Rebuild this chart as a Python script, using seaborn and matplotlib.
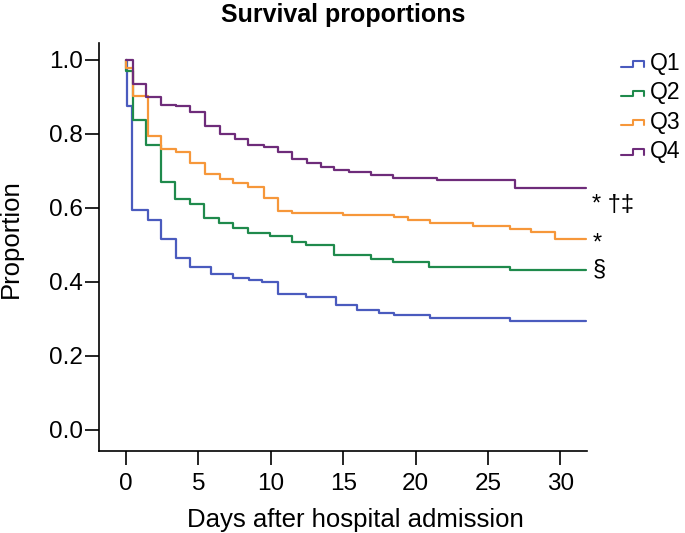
import numpy as np
import pandas as pd
import matplotlib
matplotlib.use('Agg')
import matplotlib.pyplot as plt
import seaborn as sns
from matplotlib.legend_handler import HandlerBase
from matplotlib.lines import Line2D

# step times (days) and survival proportions
q1_days = [0, 0.05, 0.4, 1.5, 2.45, 3.45, 4.45, 5.9, 7.4, 8.5, 9.4, 10.5, 12.45, 14.5, 15.95, 17.45, 18.5, 21.0, 26.5, 31.8]
q1_prop = [1.0, 0.876, 0.595, 0.566, 0.515, 0.464, 0.441, 0.421, 0.410, 0.404, 0.398, 0.368, 0.359, 0.338, 0.324, 0.315, 0.310, 0.302, 0.295, 0.295]

q2_days = [0, 0.02, 0.45, 1.4, 2.4, 3.4, 4.45, 5.4, 6.4, 7.4, 8.45, 9.95, 11.5, 12.45, 14.4, 16.9, 18.45, 20.95, 26.5, 31.8]
q2_prop = [1.0, 0.971, 0.838, 0.770, 0.669, 0.624, 0.611, 0.572, 0.558, 0.546, 0.533, 0.524, 0.507, 0.500, 0.473, 0.462, 0.453, 0.439, 0.432, 0.432]

q3_days = [0, 0.02, 0.5, 1.5, 2.4, 3.45, 4.4, 5.45, 6.5, 7.4, 8.45, 9.5, 10.5, 11.5, 15.0, 18.5, 19.5, 21.0, 24.0, 26.5, 28.0, 29.6, 31.8]
q3_prop = [1.0, 0.977, 0.903, 0.793, 0.759, 0.750, 0.721, 0.692, 0.677, 0.667, 0.655, 0.626, 0.592, 0.587, 0.581, 0.574, 0.566, 0.558, 0.550, 0.543, 0.535, 0.515, 0.515]

q4_days = [0, 0.45, 1.4, 2.4, 3.45, 4.4, 5.45, 6.5, 7.5, 8.45, 9.5, 10.5, 11.5, 12.5, 13.45, 14.4, 15.4, 16.95, 18.45, 21.45, 26.9, 31.8]
q4_prop = [1.0, 0.934, 0.901, 0.878, 0.874, 0.860, 0.820, 0.799, 0.786, 0.770, 0.764, 0.750, 0.732, 0.721, 0.710, 0.703, 0.696, 0.688, 0.680, 0.674, 0.653, 0.653]

groups = ['Q1', 'Q2', 'Q3', 'Q4']
colors = ['#4a5bbe', '#1f8a4c', '#f6973a', '#6e2c7a']
marks = ['', '§', '*', '* †‡']

df = pd.concat([
    pd.DataFrame({'day': d, 'prop': p, 'group': g})
    for g, d, p in [('Q1', q1_days, q1_prop), ('Q2', q2_days, q2_prop),
                    ('Q3', q3_days, q3_prop), ('Q4', q4_days, q4_prop)]
], ignore_index=True)

sns.set_style('ticks')
plt.rcParams['font.family'] = ['Liberation Sans', 'DejaVu Sans']
plt.rcParams['text.color'] = 'black'
plt.rcParams['xtick.color'] = 'black'
plt.rcParams['ytick.color'] = 'black'
plt.rcParams['axes.labelcolor'] = 'black'


class StepHandler(HandlerBase):
    # little step glyph like the original legend
    def create_artists(self, legend, orig, xd, yd, w, h, fontsize, trans):
        y0 = yd + 0.2 * h
        y1 = yd + 0.55 * h
        xs = [xd, xd + 0.45 * w, xd + 0.45 * w, xd + 0.9 * w, xd + 0.9 * w]
        ys = [y0, y0, y1, y1, y0]
        ln = Line2D(xs, ys, color=orig.get_color(), lw=1.5, transform=trans)
        return [ln]


fig = plt.figure(figsize=(6.85, 5.33), dpi=100)
ax = fig.add_axes([0.1445, 0.1538, 0.712, 0.765])

sns.lineplot(data=df, x='day', y='prop', hue='group', palette=dict(zip(groups, colors)),
             drawstyle='steps-post', estimator=None, sort=False, legend=False,
             linewidth=1.6, ax=ax)

ax.set_xlim(-1.865, 31.82)
ax.set_ylim(-0.058, 1.045)
ax.set_xticks([0, 5, 10, 15, 20, 25, 30])
ax.set_yticks([0, 0.2, 0.4, 0.6, 0.8, 1.0])
ax.set_yticklabels(['0.0', '0.2', '0.4', '0.6', '0.8', '1.0'])
ax.tick_params(axis='both', direction='out', length=10, width=1.2, labelsize=17.5)
ax.tick_params(axis='x', pad=6)
ax.tick_params(axis='y', pad=1.5)
for s in ['top', 'right']:
    ax.spines[s].set_visible(False)
for s in ['left', 'bottom']:
    ax.spines[s].set_linewidth(1.2)
    ax.spines[s].set_color('black')

ax.set_xlabel('Days after hospital admission', fontsize=18.5)
ax.set_ylabel('Proportion', fontsize=18.5)
ax.xaxis.set_label_coords(0.526, -0.14)
ax.yaxis.set_label_coords(-0.156, 0.52)
ax.set_title('Survival proportions', fontsize=18, fontweight='bold', pad=0, y=1.069, va='center')

# significance marks at the end of each curve
ends = {'Q2': (q2_days[-1], 0.417), 'Q3': (q3_days[-1], 0.487), 'Q4': (q4_days[-1], 0.59)}
for g, m in zip(groups, marks):
    if not m:
        continue
    x, y = ends[g]
    ax.text(x + 0.4, y, m, fontsize=17, va='baseline', ha='left', clip_on=False)

handles = [Line2D([], [], color=c) for c in colors]
fig.legend(handles, groups, loc='upper left', bbox_to_anchor=(0.907, 0.902),
           frameon=False, fontsize=16.5, handlelength=1.1, handletextpad=0.15,
           labelspacing=0.27, borderaxespad=0, borderpad=0,
           handler_map={Line2D: StepHandler()})

plt.savefig('out.png', dpi=100)
